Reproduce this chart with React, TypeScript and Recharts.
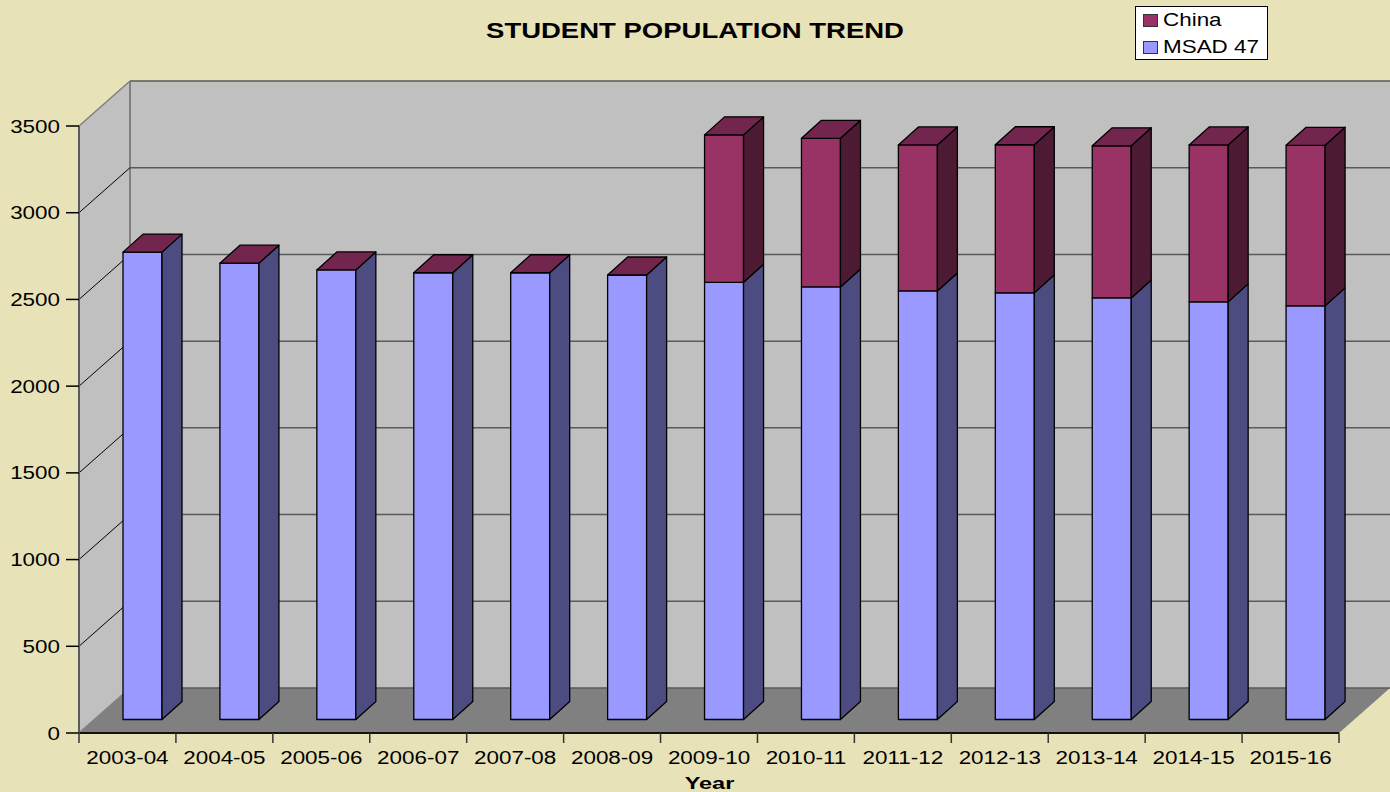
import { BarChart, Bar, XAxis, YAxis, CartesianGrid, Legend } from 'recharts';

const years = ['2003-04', '2004-05', '2005-06', '2006-07', '2007-08', '2008-09', '2009-10', '2010-11', '2011-12', '2012-13', '2013-14', '2014-15', '2015-16'];
const msad47 = [2695, 2631, 2592, 2576, 2576, 2563, 2521, 2494, 2471, 2460, 2431, 2408, 2385];
const china = [0, 0, 0, 0, 0, 0, 850, 857, 842, 854, 877, 905, 926];
const yTicks = [0, 500, 1000, 1500, 2000, 2500, 3000, 3500];

const chartData = years.map((year, i) => ({ year, msad: msad47[i], china: china[i] }));

const FONT = '"Liberation Sans", Arial, sans-serif';
const WIDE = 1.18; // the original picture was stretched sideways

// 3D look: depth of the box and of each column, in pixels
const BOX_DX = 51;
const BOX_DY = 45;
const BAR_DX = 20;
const BAR_DY = 18;
const BAR_SHIFT_X = 15;
const BAR_SHIFT_Y = 13.5;
const PLOT_LEFT = 79;
const PLOT_RIGHT = 1339;
const PLOT_TOP = 126;
const PLOT_BOTTOM = 733;

function WideText({ x, y, anchor = 'middle', size = 19, bold = false, wide = WIDE, children }: any) {
  return (
    <text
      transform={`translate(${x} ${y}) scale(${wide} 1)`}
      textAnchor={anchor}
      fontFamily={FONT}
      fontSize={size}
      fontWeight={bold ? 'bold' : 'normal'}
      fill="#000"
    >
      {children}
    </text>
  );
}

// the box behind the chart, the chart itself has a transparent background
function Walls() {
  const l = PLOT_LEFT;
  const r = PLOT_RIGHT;
  const t = PLOT_TOP;
  const b = PLOT_BOTTOM;
  return (
    <svg width={1390} height={792} style={{ position: 'absolute', left: 0, top: 0 }}>
      <polygon points={`${l},${b} ${l},${t} ${l + BOX_DX},${t - BOX_DY} ${l + BOX_DX},${b - BOX_DY}`} fill="#c0c0c0" />
      <rect x={l + BOX_DX} y={t - BOX_DY} width={r - l} height={b - t} fill="#c0c0c0" />
      <polygon points={`${l},${b} ${r},${b} ${r + BOX_DX},${b - BOX_DY} ${l + BOX_DX},${b - BOX_DY}`} fill="#808080" />
      <line x1={l + BOX_DX} y1={t - BOX_DY} x2={l + BOX_DX} y2={b - BOX_DY} stroke="#808080" strokeWidth={2} />
    </svg>
  );
}

function GridLine(props: any) {
  const { x1, y1, x2 } = props;
  const edge = Math.abs(y1 - PLOT_TOP) < 1 || Math.abs(y1 - PLOT_BOTTOM) < 1;
  return (
    <g key={props.key}>
      <line x1={x1} y1={y1} x2={x1 + BOX_DX} y2={y1 - BOX_DY} stroke={edge ? '#808080' : '#000'} strokeWidth={edge ? 1.5 : 1} />
      <line x1={x1 + BOX_DX} y1={y1 - BOX_DY} x2={x2 + BOX_DX} y2={y1 - BOX_DY} stroke="#5a5a5a" strokeWidth={1.5} />
    </g>
  );
}

function Column(props: any) {
  const { x, y, width, height, front, side, top } = props;
  const left = x + BAR_SHIFT_X;
  const right = left + width;
  const yTop = y - BAR_SHIFT_Y;
  const yBot = yTop + height;
  return (
    <g stroke="#000" strokeWidth={1.3} strokeLinejoin="round">
      {height > 0 && <rect x={left} y={yTop} width={width} height={height} fill={front} />}
      {height > 0 && (
        <polygon
          points={`${right},${yTop} ${right + BAR_DX},${yTop - BAR_DY} ${right + BAR_DX},${yBot - BAR_DY} ${right},${yBot}`}
          fill={side}
        />
      )}
      {top && (
        <polygon
          points={`${left},${yTop} ${left + BAR_DX},${yTop - BAR_DY} ${right + BAR_DX},${yTop - BAR_DY} ${right},${yTop}`}
          fill={top}
        />
      )}
    </g>
  );
}

function YearTick({ x, payload, index }: any) {
  const half = (PLOT_RIGHT - PLOT_LEFT) / years.length / 2;
  return (
    <g>
      <line x1={x - half} y1={PLOT_BOTTOM} x2={x - half} y2={PLOT_BOTTOM + 10} stroke="#333" strokeWidth={1.5} />
      {index === years.length - 1 && <line x1={x + half} y1={PLOT_BOTTOM} x2={x + half} y2={PLOT_BOTTOM + 10} stroke="#333" strokeWidth={1.5} />}
      <WideText x={x} y={PLOT_BOTTOM + 31}>{payload.value}</WideText>
    </g>
  );
}

function ValueTick({ x, y, payload }: any) {
  return <WideText x={x - 4} y={y + 6.5} anchor="end">{payload.value}</WideText>;
}

function LegendBox({ payload }: any) {
  return (
    <div style={{ width: 131, height: 52, background: '#fff', border: '1px solid #000', fontFamily: FONT, fontSize: 19, color: '#000', position: 'relative' }}>
      {(payload || []).map((item: any, i: number) => (
        <div key={item.value} style={{ position: 'absolute', left: 7, top: 0 + i * 27, height: 26, display: 'flex', alignItems: 'center', whiteSpace: 'nowrap' }}>
          <span style={{ display: 'inline-block', width: 13, height: 11, background: item.color, border: '1px solid #333', marginRight: 5 }} />
          <span style={{ display: 'inline-block', transform: `scaleX(${WIDE})`, transformOrigin: 'left center' }}>{item.value}</span>
        </div>
      ))}
    </div>
  );
}

export default function App() {
  return (
    <div style={{ position: 'absolute', left: 0, top: 0, width: 1390, height: 792, background: '#e8e2b8', overflow: 'hidden' }}>
      <Walls />
      <BarChart
        width={1390}
        height={792}
        data={chartData}
        margin={{ top: PLOT_TOP, right: 51, bottom: 0, left: 0 }}
        barCategoryGap={0}
      >
        <CartesianGrid vertical={false} horizontal={(p: any) => <GridLine {...p} />} />
        <XAxis
          dataKey="year"
          height={59}
          interval={0}
          tick={<YearTick />}
          tickLine={false}
          axisLine={{ stroke: '#111', strokeWidth: 2 }}
        />
        <YAxis
          width={79}
          domain={[0, 3500]}
          ticks={yTicks}
          tick={<ValueTick />}
          tickSize={13}
          tickLine={{ stroke: '#000', strokeWidth: 1.5 }}
          axisLine={{ stroke: '#5a5a5a', strokeWidth: 2 }}
        />
        <Legend
          layout="horizontal"
          verticalAlign="middle"
          align="center"
          content={<LegendBox />}
          wrapperStyle={{ position: 'absolute', left: 1135, top: 6, width: 133, height: 54 }}
        />
        <Bar
          dataKey="msad"
          name="MSAD 47"
          stackId="a"
          barSize={39}
          fill="#9999ff"
          isAnimationActive={false}
          shape={(p: any) => <Column {...p} front="#9999ff" side="#4c4c80" />}
        />
        <Bar
          dataKey="china"
          name="China"
          stackId="a"
          barSize={39}
          fill="#993366"
          isAnimationActive={false}
          shape={(p: any) => <Column {...p} front="#993366" side="#4d1a33" top="#73264d" />}
        />
        <WideText x={695} y={37.5} size={22} bold wide={1.25}>STUDENT POPULATION TREND</WideText>
        <WideText x={709.5} y={789} size={17} bold wide={1.38}>Year</WideText>
      </BarChart>
    </div>
  );
}
